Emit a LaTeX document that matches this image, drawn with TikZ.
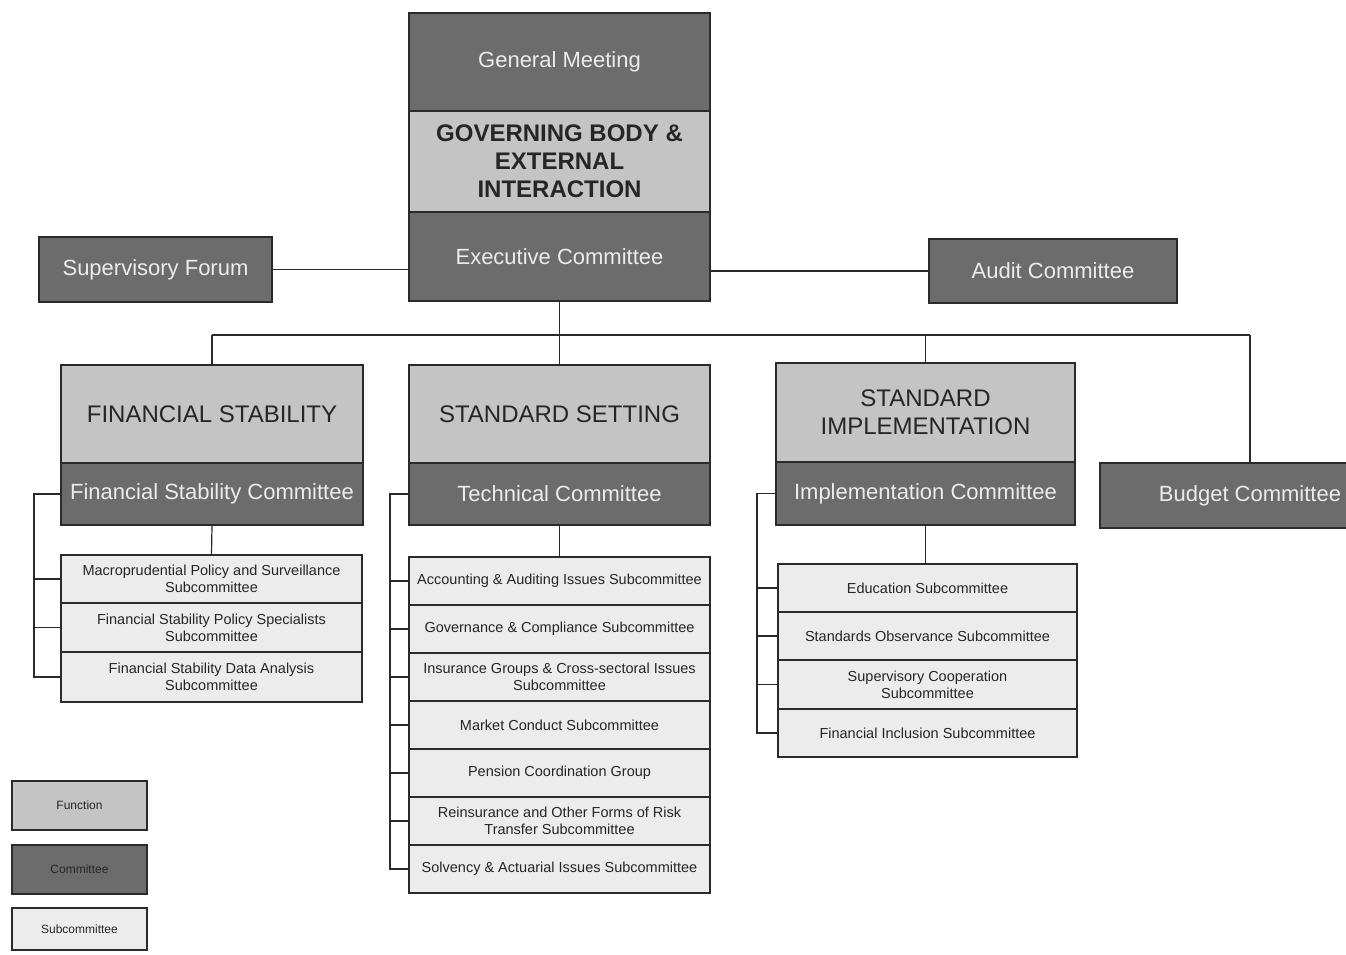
\documentclass[tikz,border=0pt]{standalone}
\usepackage{fontspec}
\setmainfont{Liberation Sans}
\definecolor{funcfill}{HTML}{C4C4C4}
\definecolor{commfill}{HTML}{6C6C6C}
\definecolor{subfill}{HTML}{ECECEC}
\definecolor{linec}{HTML}{2A2A2A}
\definecolor{darktext}{HTML}{262626}
\definecolor{lighttext}{HTML}{ECECEC}
\tikzset{
  box/.style={draw=linec, line width=1.3pt, inner sep=2pt, align=center},
  func/.style={box, fill=funcfill, text=darktext, font=\fontsize{24}{28}\selectfont},
  comm/.style={box, fill=commfill, text=lighttext, font=\fontsize{22}{26}\selectfont},
  subc/.style={box, fill=subfill, text=darktext, font=\fontsize{14.5}{17}\selectfont},
  legtext/.style={text=darktext, font=\fontsize{12}{14}\selectfont},
  conn/.style={draw=linec, line width=1.2pt},
}
\newcommand{\mkbox}[7]{\node[#2, minimum width={(#5-#3)*1pt}, minimum height={(#6-#4)*1pt}] (#1) at ({(#3+#5)/2},{(#4+#6)/2}) {#7};}
\begin{document}
\begin{tikzpicture}[x=1pt, y=-1pt]
\useasboundingbox[fill=white] (0,0) rectangle (1346,954);
% top block
\mkbox{gm}{comm}{409}{13}{710}{111}{General Meeting}
\mkbox{gov}{func, font=\bfseries\fontsize{24}{28}\selectfont}{409}{111}{710}{212}{GOVERNING BODY \&\\EXTERNAL\\INTERACTION}
\mkbox{exec}{comm}{409}{212}{710}{301}{Executive Committee}
\mkbox{sup}{comm}{39}{237}{272}{302}{Supervisory Forum}
\mkbox{aud}{comm}{929}{239}{1177}{303}{Audit Committee}
% functions
\mkbox{fsf}{func}{61}{365}{363}{463}{FINANCIAL STABILITY}
\mkbox{fsc}{comm}{61}{463}{363}{525}{Financial Stability Committee}
\mkbox{ssf}{func}{409}{365}{710}{463}{STANDARD SETTING}
\mkbox{ssc}{comm}{409}{463}{710}{525}{Technical Committee}
\mkbox{sif}{func}{776}{363}{1075}{462}{STANDARD\\IMPLEMENTATION}
\mkbox{sic}{comm}{776}{462}{1075}{525}{Implementation Committee}
\mkbox{bud}{comm}{1100}{463}{1400}{528}{Budget Committee}
% FS subcommittees
\mkbox{fs1}{subc}{61}{555}{362}{603}{Macroprudential Policy and Surveillance\\Subcommittee}
\mkbox{fs2}{subc}{61}{603}{362}{652}{Financial Stability Policy Specialists\\Subcommittee}
\mkbox{fs3}{subc}{61}{652}{362}{702}{Financial Stability Data Analysis\\Subcommittee}
% SS subcommittees
\mkbox{ss1}{subc}{409}{557}{710}{605}{Accounting \& Auditing Issues Subcommittee}
\mkbox{ss2}{subc}{409}{605}{710}{653}{Governance \& Compliance Subcommittee}
\mkbox{ss3}{subc}{409}{653}{710}{701}{Insurance Groups \& Cross-sectoral Issues\\Subcommittee}
\mkbox{ss4}{subc}{409}{701}{710}{749}{Market Conduct Subcommittee}
\mkbox{ss5}{subc}{409}{749}{710}{797}{Pension Coordination Group}
\mkbox{ss6}{subc}{409}{797}{710}{845}{Reinsurance and Other Forms of Risk\\Transfer Subcommittee}
\mkbox{ss7}{subc}{409}{845}{710}{893}{Solvency \& Actuarial Issues Subcommittee}
% SI subcommittees
\mkbox{si1}{subc}{778}{564}{1077}{612}{Education Subcommittee}
\mkbox{si2}{subc}{778}{612}{1077}{660}{Standards Observance Subcommittee}
\mkbox{si3}{subc}{778}{660}{1077}{709}{Supervisory Cooperation\\Subcommittee}
\mkbox{si4}{subc}{778}{709}{1077}{757}{Financial Inclusion Subcommittee}
% legend
\mkbox{lf}{func, legtext}{12}{781}{147}{830}{Function}
\mkbox{lc}{comm, legtext}{12}{845}{147}{894}{Committee}
\mkbox{ls}{subc, legtext}{12}{908}{147}{950}{Subcommittee}
% connectors: side committees
\draw[conn] (sup.east) -- (sup.east -| exec.west);
\draw[conn] (aud.west) -- (aud.west -| exec.east);
% bus
\coordinate (bus) at (559.5,335);
\draw[conn] (exec.south) -- (exec.south |- bus);
\draw[conn] (bus -| fsf.north) -- (bus -| bud.north);
\draw[conn] (bus -| fsf.north) -- (fsf.north);
\draw[conn] (bus -| ssf.north) -- (ssf.north);
\draw[conn] (bus -| sif.north) -- (sif.north);
\draw[conn] (bus -| bud.north) -- (bud.north);
% committees to subcommittees
\draw[conn] (fsc.south) -- (fs1.north);
\draw[conn] (ssc.south) -- (ssc.south |- ss1.north);
\draw[conn] (sic.south) -- (sic.south |- si1.north);
% brackets
\coordinate (fsb) at (34,0);
\draw[conn] (fsc.west) -- (fsc.west -| fsb) |- (fs3.west);
\foreach \n in {fs1,fs2} \draw[conn] (fsb |- \n.west) -- (\n.west);
\coordinate (ssb) at (390,0);
\draw[conn] (ssc.west) -- (ssc.west -| ssb) |- (ss7.west);
\foreach \n in {ss1,ss2,ss3,ss4,ss5,ss6} \draw[conn] (ssb |- \n.west) -- (\n.west);
\coordinate (sib) at (757,0);
\draw[conn] (sic.west) -- (sic.west -| sib) |- (si4.west);
\foreach \n in {si1,si2,si3} \draw[conn] (sib |- \n.west) -- (\n.west);
\end{tikzpicture}
\end{document}
